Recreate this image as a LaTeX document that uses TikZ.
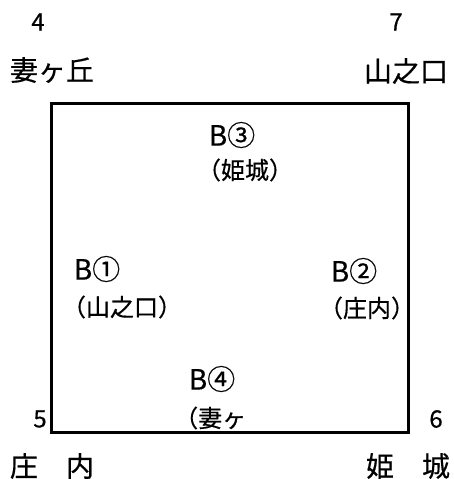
\documentclass[tikz,border=0pt]{standalone}
\usepackage{fontspec}
\setmainfont{Noto Sans CJK JP}[FakeBold=0.5]
\usepackage{tikz}
\tikzset{
  nm/.style={inner sep=0pt, font=\fontsize{24pt}{24pt}\selectfont},
  pl/.style={inner sep=0pt, font=\fontsize{28pt}{28pt}\selectfont},
  bs/.style={inner sep=0pt, font=\fontsize{28pt}{28pt}\selectfont},
  ps/.style={inner sep=0pt, font=\fontsize{24pt}{24pt}\selectfont},
  bx/.style={line width=3pt, line join=miter}
}
\begin{document}
\begin{tikzpicture}[x=1pt, y=-1pt]
  \useasboundingbox (0,0) rectangle (454,479);
  % corners of the field
  \coordinate (c4) at (51,103);
  \coordinate (c7) at (408,103);
  \coordinate (c6) at (408,432);
  \coordinate (c5) at (51,432);
  \draw[bx] (c4) -- (c7) -- (c6) -- (c5) -- cycle;
  % corner numbers and names
  \node[nm] (n4) at (38,22) {4};
  \node[nm] (n7) at (396,22) {7};
  \node[nm] (n5) at (40,419) {5};
  \node[nm] (n6) at (436,419) {6};
  \node[pl] (tsu) at (52,70) {妻ヶ丘};
  \node[pl] (yam) at (406,71) {山之口};
  \node[pl] (sho) at (52,466) {庄　内};
  \node[pl] (him) at (408,466) {姫　城};
  % bases
  \node[bs] (b3) at (232,135) {B③};
  \node[ps] (p3) at (245,170) {（姫城）};
  \node[bs] (b1) at (97,269) {B①};
  \node[ps] (p1) at (122,307) {（山之口）};
  \node[bs] (b2) at (354,271) {B②};
  \node[ps] (p2) at (367,308) {（庄内）};
  \node[bs] (b4) at (212,379) {B④};
  \node[ps, anchor=west] (p4) at (174,418) {（妻ヶ};
\end{tikzpicture}
\end{document}
